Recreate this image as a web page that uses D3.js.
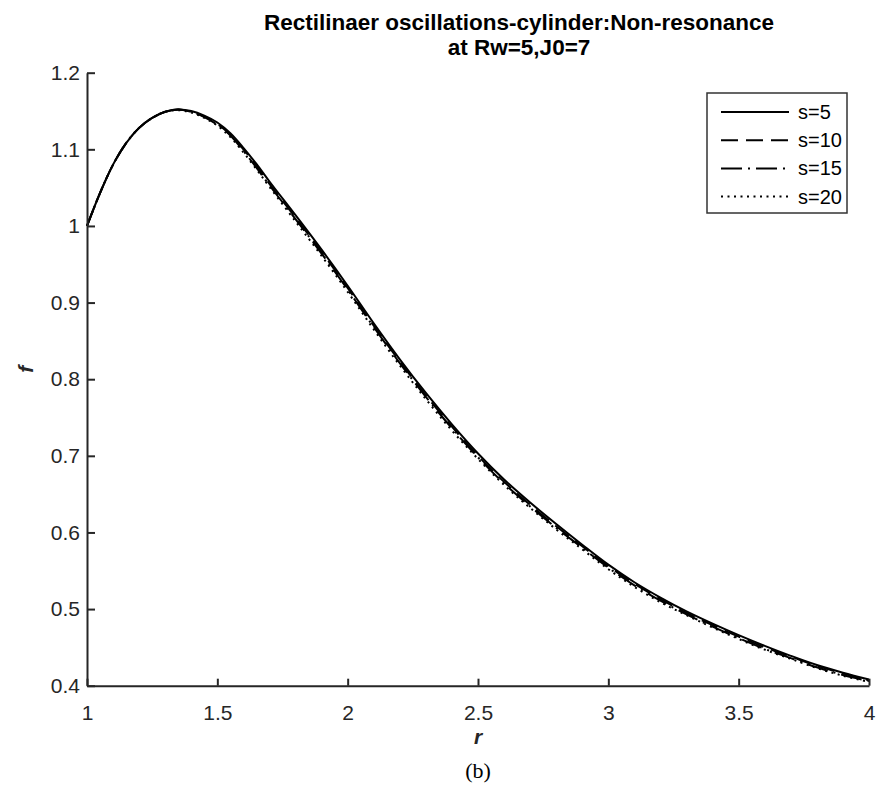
<!DOCTYPE html>
<html><head><meta charset="utf-8">
<script src="https://cdn.jsdelivr.net/npm/d3@7"></script>
<style>body{margin:0;background:#fff;} svg{display:block;}</style>
</head><body>
<svg id="chart" width="884" height="811"></svg>
<script>
const rValues = [1.00,1.05,1.10,1.15,1.20,1.25,1.30,1.35,1.40,1.45,1.50,1.55,1.60,1.65,1.70,1.80,1.90,2.00,2.10,2.20,2.30,2.40,2.50,2.60,2.70,2.80,2.90,3.00,3.10,3.20,3.30,3.40,3.50,3.60,3.70,3.80,3.90,4.00];
const s5  = [1.000,1.043,1.080,1.108,1.128,1.141,1.149,1.152,1.150,1.144,1.135,1.121,1.102,1.081,1.058,1.014,0.969,0.922,0.873,0.826,0.782,0.741,0.703,0.669,0.639,0.611,0.584,0.558,0.535,0.515,0.497,0.481,0.466,0.452,0.439,0.427,0.417,0.408];
const s10 = [1.000,1.043,1.080,1.108,1.128,1.141,1.149,1.152,1.149,1.143,1.133,1.119,1.100,1.079,1.055,1.011,0.966,0.919,0.870,0.823,0.779,0.738,0.700,0.666,0.636,0.608,0.582,0.556,0.533,0.513,0.495,0.479,0.464,0.450,0.438,0.426,0.416,0.407];
const s15 = [1.000,1.043,1.080,1.108,1.128,1.141,1.149,1.152,1.149,1.142,1.132,1.118,1.098,1.076,1.053,1.009,0.964,0.917,0.868,0.821,0.777,0.736,0.698,0.664,0.634,0.606,0.580,0.554,0.531,0.511,0.493,0.477,0.462,0.448,0.436,0.424,0.414,0.406];
const s20 = [1.000,1.043,1.080,1.108,1.128,1.141,1.149,1.151,1.148,1.141,1.131,1.116,1.096,1.074,1.051,1.006,0.961,0.914,0.865,0.818,0.774,0.733,0.696,0.662,0.632,0.604,0.578,0.552,0.529,0.509,0.492,0.476,0.461,0.447,0.435,0.423,0.413,0.405];
const seriesNames = ["s=5","s=10","s=15","s=20"];
const xTicks = [1,1.5,2,2.5,3,3.5,4];
const xTickLabels = ["1","1.5","2","2.5","3","3.5","4"];
const yTicks = [0.4,0.5,0.6,0.7,0.8,0.9,1,1.1,1.2];
const yTickLabels = ["0.4","0.5","0.6","0.7","0.8","0.9","1","1.1","1.2"];
const titleLines = ["Rectilinaer oscillations-cylinder:Non-resonance","at Rw=5,J0=7"];

const series = [
  {name: seriesNames[0], values: s5,  dash: null},
  {name: seriesNames[1], values: s10, dash: "17,8"},
  {name: seriesNames[2], values: s15, dash: "21,6,2,6"},
  {name: seriesNames[3], values: s20, dash: "2,4.5"}
];

const svg = d3.select("#chart");
const L = 87, R = 869, T = 72.7, B = 685.7;
const x = d3.scaleLinear().domain([1,4]).range([L,R]);
const y = d3.scaleLinear().domain([0.4,1.2]).range([B,T]);
const axisColor = "#262626";
const font = "'Liberation Sans', Arial, Helvetica, sans-serif";

// curves
const line = d3.line().x((d,i)=>x(rValues[i])).y(d=>y(d)).curve(d3.curveCatmullRom.alpha(0.5));
const plot = svg.append("g");
series.slice().reverse().forEach(s=>{
  plot.append("path").datum(s.values).attr("d", line)
    .attr("fill","none").attr("stroke","#000").attr("stroke-width",2)
    .attr("stroke-dasharray", s.dash);
});

// axes
const xAxis = d3.axisBottom(x).tickValues(xTicks).tickFormat((d,i)=>xTickLabels[i]).tickSizeInner(-7).tickSizeOuter(0).tickPadding(19);
const yAxis = d3.axisLeft(y).tickValues(yTicks).tickFormat((d,i)=>yTickLabels[i]).tickSizeInner(-8).tickSizeOuter(0).tickPadding(7);
const gx = svg.append("g").attr("transform",`translate(0,${B})`).call(xAxis);
const gy = svg.append("g").attr("transform",`translate(${L},0)`).call(yAxis);
[gx,gy].forEach(g=>{
  g.selectAll("path").attr("stroke",axisColor).attr("stroke-width",2);
  g.selectAll("line").attr("stroke",axisColor).attr("stroke-width",2);
  g.selectAll("text").attr("fill",axisColor).style("font-family",font).style("font-size","21px");
});
gx.selectAll("text").attr("dy","0.71em");

// axis labels
svg.append("text").attr("x",(L+R)/2).attr("y",744).attr("text-anchor","middle")
  .style("font-family",font).style("font-size","21px").style("font-weight","bold").style("font-style","italic")
  .attr("fill",axisColor).text("r");
svg.append("text").attr("transform",`translate(33,${(T+B)/2-10}) rotate(-90)`).attr("text-anchor","middle")
  .style("font-family",font).style("font-size","21px").style("font-weight","bold").style("font-style","italic")
  .attr("fill",axisColor).text("f");

// title
titleLines.forEach((t,i)=>{
  svg.append("text").attr("x",519).attr("y",30+i*25).attr("text-anchor","middle")
    .style("font-family",font).style("font-size","22.5px").style("font-weight","bold")
    .attr("fill","#000").text(t);
});

// legend
const lg = svg.append("g");
lg.append("rect").attr("x",707).attr("y",93).attr("width",140).attr("height",120)
  .attr("fill","#fff").attr("stroke","#333").attr("stroke-width",1.5);
series.forEach((s,i)=>{
  const yy = 112 + i*28.2;
  lg.append("line").attr("x1",721).attr("x2",789).attr("y1",yy).attr("y2",yy)
    .attr("stroke","#000").attr("stroke-width",2).attr("stroke-dasharray",s.dash);
  lg.append("text").attr("x",798).attr("y",yy).attr("dy","0.35em")
    .style("font-family",font).style("font-size","20px").attr("fill","#000").text(s.name);
});

// caption
svg.append("text").attr("x",(L+R)/2).attr("y",778).attr("text-anchor","middle")
  .style("font-family","'Liberation Serif','Times New Roman',serif").style("font-size","22px")
  .attr("fill","#000").text("(b)");
</script>
</body></html>
